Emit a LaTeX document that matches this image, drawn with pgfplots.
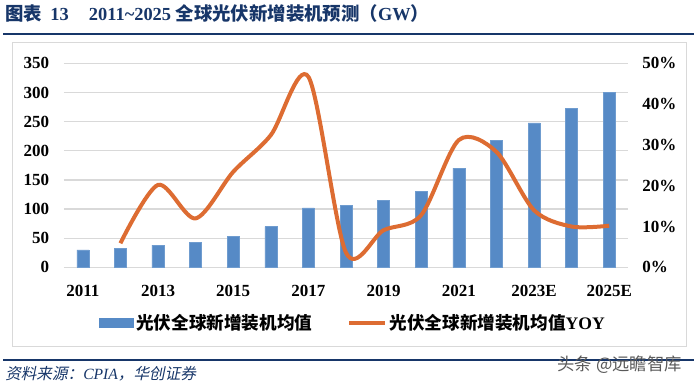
\documentclass[border=0pt]{standalone}
\usepackage{pgfplots}
\pgfplotsset{compat=1.18}
\usepackage{fontspec}
\setmainfont{Liberation Serif}
\newfontfamily\cjk{Noto Sans CJK SC}
\newfontfamily\cjkit{Noto Sans CJK SC}[FakeSlant=0.2]
\definecolor{barblue}{RGB}{86,138,198}
\definecolor{lineorange}{RGB}{221,108,50}
\definecolor{navy}{RGB}{23,54,105}
\definecolor{gridgray}{RGB}{217,217,217}
\begin{document}
\begin{tikzpicture}
\begin{scope}[x=0.75pt,y=0.75pt]
\path[use as bounding box] (0,0) rectangle (694,386);
\node[anchor=west, inner sep=0pt, text=navy, font=\fontsize{13.8}{16}\selectfont\bfseries] at (5,372)
  {{\cjk 图表}\hspace{0.45em}13\hspace{1.1em}2011\textasciitilde2025 {\cjk 全球光伏新增装机预测（}GW{\cjk ）}};
\draw[navy, line width=2.2pt] (3,352) -- (694,352);
\draw[gridgray, line width=0.75pt] (12,343) rectangle (686,39);
\draw[navy, line width=2.2pt] (3,26) -- (694,26);
\node[anchor=west, inner sep=0pt, text=navy, font=\fontsize{11.7}{13}\selectfont] at (5,12)
  {{\cjkit 资料来源：}\textit{CPIA}{\cjkit ，华创证券}};
\node[anchor=east, inner sep=0pt, text=black!65, font=\fontsize{13}{15}\selectfont\cjk] at (682,21) {头条 @远瞻智库};
\end{scope}

\begin{axis}[
  at={(48pt,89.0pt)}, anchor=south west,
  width=423pt, height=153pt, scale only axis,
  xmin=-0.5, xmax=14.5, ymin=0, ymax=350,
  ytick={0,50,...,350},
  xtick={0,2,...,14},
  xticklabels={2011,2013,2015,2017,2019,2021,2023E,2025E},
  axis line style={draw=none}, tick style={draw=none},
  ymajorgrids, grid style={gridgray, line width=0.9pt},
  /pgf/number format/assume math mode=true,
  ticklabel style={font=\fontsize{12.75}{15}\selectfont\bfseries},
  yticklabel style={inner sep=0pt, xshift=-11pt},
  xticklabel style={inner sep=0pt, yshift=-9pt},
  ybar, bar width=9pt,
]
\addplot[fill=barblue, draw=barblue!85!white] coordinates {
(0,30) (1,32) (2,38) (3,43) (4,53) (5,70) (6,102) (7,106)
(8,115) (9,130) (10,170) (11,218) (12,248) (13,273) (14,300)};
\end{axis}

\begin{axis}[
  at={(48pt,89.0pt)}, anchor=south west,
  width=423pt, height=153pt, scale only axis,
  xmin=-0.5, xmax=14.5, ymin=0, ymax=50,
  ytick={0,10,...,50},
  axis y line*=right, axis x line=none,
  axis line style={draw=none}, tick style={draw=none},
  /pgf/number format/assume math mode=true,
  yticklabel={\pgfmathprintnumber{\tick}\%},
  ticklabel style={font=\fontsize{12.75}{15}\selectfont\bfseries},
  yticklabel style={inner sep=0pt, xshift=10.5pt},
  legend columns=2,
  legend style={at={(0.513,-0.273)}, anchor=center, draw=none, fill=none,
    font=\fontsize{13.2}{15}\selectfont\bfseries, inner sep=0pt,
    /tikz/every even column/.append style={column sep=24pt}},
]
\addlegendimage{legend image code/.code={\fill[barblue] (0pt,-3.4pt) rectangle (25.5pt,3.4pt);}}
\addlegendentry{{\cjk 光伏全球新增装机均值}}
\addplot[lineorange, line width=3pt, smooth, tension=0.5, no markers,
  legend image code/.code={\draw[lineorange, line width=3pt] (0pt,0pt) -- (27pt,0pt);}]
  coordinates {
(1,5.9) (2,20.2) (3,12) (4,23.4) (5,32.4) (6,46.7) (7,3.6)
(8,9.1) (9,12.8) (10,31.2) (11,28.3) (12,14) (13,10) (14,10.2)};
\addlegendentry{{\cjk 光伏全球新增装机均值}YOY}
\end{axis}
\end{tikzpicture}
\end{document}
